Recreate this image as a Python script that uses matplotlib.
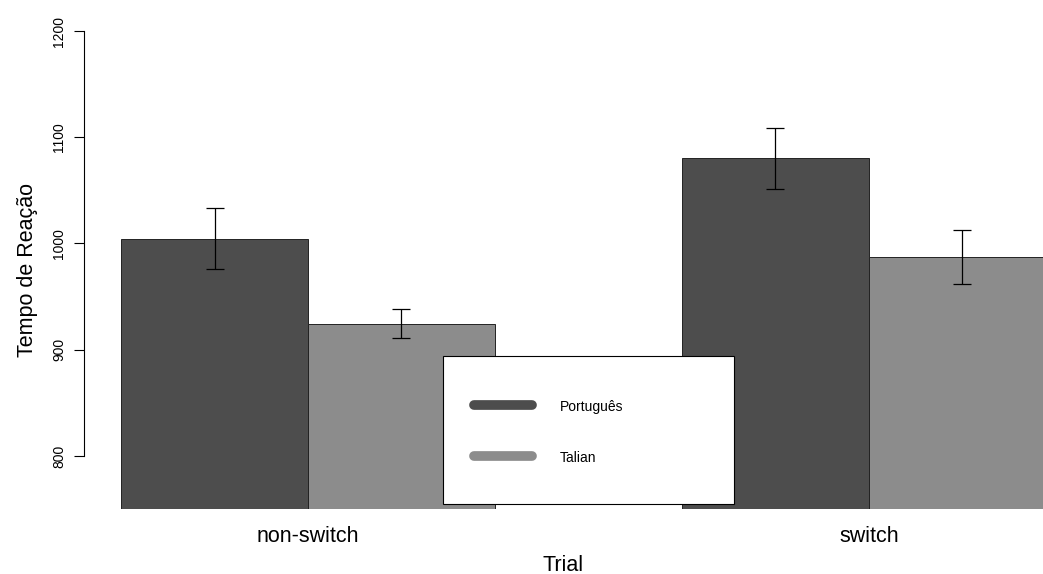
import numpy as np
import matplotlib.pyplot as plt
from matplotlib.lines import Line2D
from matplotlib.patches import Rectangle

plt.rcParams['font.family'] = ['Liberation Sans', 'DejaVu Sans']

# dados
trials = ['non-switch', 'switch']
grupos = ['Português', 'Talian']
medias_pt = [1004, 1080]
medias_ta = [924, 987]
inf_pt = [976, 1051]
sup_pt = [1033, 1109]
inf_ta = [911, 962]
sup_ta = [938, 1013]
cores = ['#4d4d4d', '#8c8c8c']

fig = plt.figure(figsize=(10.43, 5.74), dpi=100)
W, H = 1043, 574
ax = fig.add_axes([84 / W, 1 - 509 / H, (W - 84) / W, (509 - 31) / H])

centros = np.array([1, 4])
x_pt = centros - 0.5
x_ta = centros + 0.5
ax.bar(x_pt, medias_pt, width=1, bottom=0, color=cores[0], edgecolor='#222222', linewidth=0.7)
ax.bar(x_ta, medias_ta, width=1, bottom=0, color=cores[1], edgecolor='#222222', linewidth=0.7)

m_pt = np.array(medias_pt)
m_ta = np.array(medias_ta)
ax.errorbar(x_pt, m_pt, yerr=[m_pt - np.array(inf_pt), np.array(sup_pt) - m_pt],
            fmt='none', ecolor='black', elinewidth=0.9, capsize=6.5, capthick=0.9)
ax.errorbar(x_ta, m_ta, yerr=[m_ta - np.array(inf_ta), np.array(sup_ta) - m_ta],
            fmt='none', ecolor='black', elinewidth=0.9, capsize=6.5, capthick=0.9)

ax.set_ylim(750, 1200)
ax.set_xlim(-37 / 187, (W - 121) / 187)

for s in ['top', 'right', 'bottom']:
    ax.spines[s].set_visible(False)
ax.spines['left'].set_bounds(800, 1200)
ax.spines['left'].set_linewidth(0.8)
ax.set_yticks([800, 900, 1000, 1100, 1200])
ax.tick_params(axis='y', length=7, width=0.8, labelsize=10, pad=6, labelrotation=90)
for lab in ax.get_yticklabels():
    lab.set_va('center')

ax.set_xticks(centros)
ax.set_xticklabels(trials, fontsize=15.5)
ax.tick_params(axis='x', length=0, pad=12)
ax.set_xlabel('Trial', fontsize=15.5, labelpad=6)
ax.set_ylabel('Tempo de Reação', fontsize=15.5, labelpad=10)

# caixa da legenda
ax.add_patch(Rectangle((443 / W, 1 - 504 / H), 291 / W, 148 / H, transform=fig.transFigure,
                       facecolor='white', edgecolor='black', linewidth=0.8, zorder=5,
                       clip_on=False))
handles = [Line2D([0], [0], color=c, lw=7, solid_capstyle='round') for c in cores]
leg = ax.legend(handles, grupos, loc='upper left',
                bbox_to_anchor=(474 / W, 1 - 399 / H), bbox_transform=fig.transFigure,
                borderaxespad=0, borderpad=0, fontsize=10, frameon=False,
                handlelength=4.17, handletextpad=2.0, handleheight=1.2, labelspacing=2.62)
leg.set_zorder(6)

fig.savefig('out.png', dpi=100)
